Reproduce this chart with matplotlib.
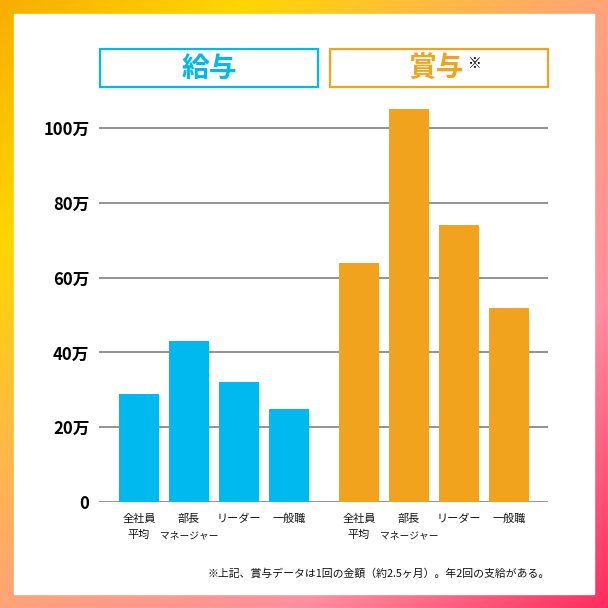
import numpy as np
import matplotlib
matplotlib.use("Agg")
import matplotlib.pyplot as plt
from matplotlib.colors import LinearSegmentedColormap
from matplotlib.patches import Rectangle

plt.rcParams['font.family'] = ['Noto Sans CJK JP', 'DejaVu Sans']

# data (unit: 万円)
categories = ['全社員\n平均', '部長\nマネージャー', 'リーダー', '一般職']
salary = [29, 43, 32, 25]
bonus = [64, 105, 74, 52]
yticks = [0, 20, 40, 60, 80, 100]
ytick_labels = ['0', '20万', '40万', '60万', '80万', '100万']
group_titles = ['給与', '賞与']
footnote = '※上記、賞与データは1回の金額（約2.5ヶ月）。年2回の支給がある。'

BLUE = '#00B9EE'
ORANGE = '#F2A31E'
W = H = 608

fig = plt.figure(figsize=(6.08, 6.08), dpi=100)

# gradient frame
bg = fig.add_axes([0, 0, 1, 1])
bg.set_axis_off()
xx, yy = np.meshgrid(np.linspace(0, 1, 300), np.linspace(0, 1, 300))
t = (xx + yy) / 2
cmap = LinearSegmentedColormap.from_list('frame', [
    (0.0, '#F8AE00'), (0.2, '#FFD600'), (0.5, '#FFA37A'),
    (0.75, '#FF8FA0'), (1.0, '#FF2D5E')])
bg.imshow(t, cmap=cmap, extent=[0, W, H, 0], aspect='auto')
bg.add_patch(Rectangle((14, 14), 580, 580, color='white'))
bg.set_xlim(0, W)
bg.set_ylim(H, 0)

# header boxes
bg.add_patch(Rectangle((100, 49), 218, 38, fill=False, ec=BLUE, lw=1.6))
bg.add_patch(Rectangle((330, 49), 218, 38, fill=False, ec=ORANGE, lw=1.6))
bg.text(209, 69, group_titles[0], color=BLUE, fontsize=20, fontweight='bold',
        ha='center', va='center')
bg.text(436, 69, group_titles[1], color=ORANGE, fontsize=20, fontweight='bold',
        ha='center', va='center')
bg.text(475, 64, '※', color='black', fontsize=10, ha='center', va='center')
bg.text(550, 573, footnote, fontsize=7.8, ha='right', va='center', color='#111111')

# main chart
px_per_unit = 3.74
ymax = 110
left, right, zero = 99, 548, 502
ax = fig.add_axes([left / W, (H - zero) / H, (right - left) / W,
                   ymax * px_per_unit / H])
ax.set_facecolor('none')

x_sal = np.arange(4)
x_bon = np.arange(4) + 4.4
ax.bar(x_sal, salary, width=0.8, color=BLUE, zorder=3)
ax.bar(x_bon, bonus, width=0.8, color=ORANGE, zorder=3)

ax.set_xlim(-0.8, 8.18)
ax.set_ylim(0, ymax)
ax.set_yticks(yticks)
ax.set_yticklabels(ytick_labels, fontsize=12, fontweight='bold')
ax.tick_params(axis='y', length=0, pad=7)
ax.set_xticks([])
ax.grid(axis='y', color='#808080', lw=1.2, zorder=1)
for s in ax.spines.values():
    s.set_visible(False)

# category labels, one text per line; long lines are set smaller (condensed in the original)
for xs in (x_sal, x_bon):
    for x, lab in zip(xs, categories):
        for i, line in enumerate(lab.split('\n')):
            size = 8 if len(line) <= 4 else 7
            ax.annotate(line, xy=(x, 0), xycoords=('data', 'axes fraction'),
                        xytext=(0, -12 - 12 * i), textcoords='offset points',
                        ha='center', va='center', fontsize=size,
                        color='#111111')

fig.savefig('out.png', dpi=100)
